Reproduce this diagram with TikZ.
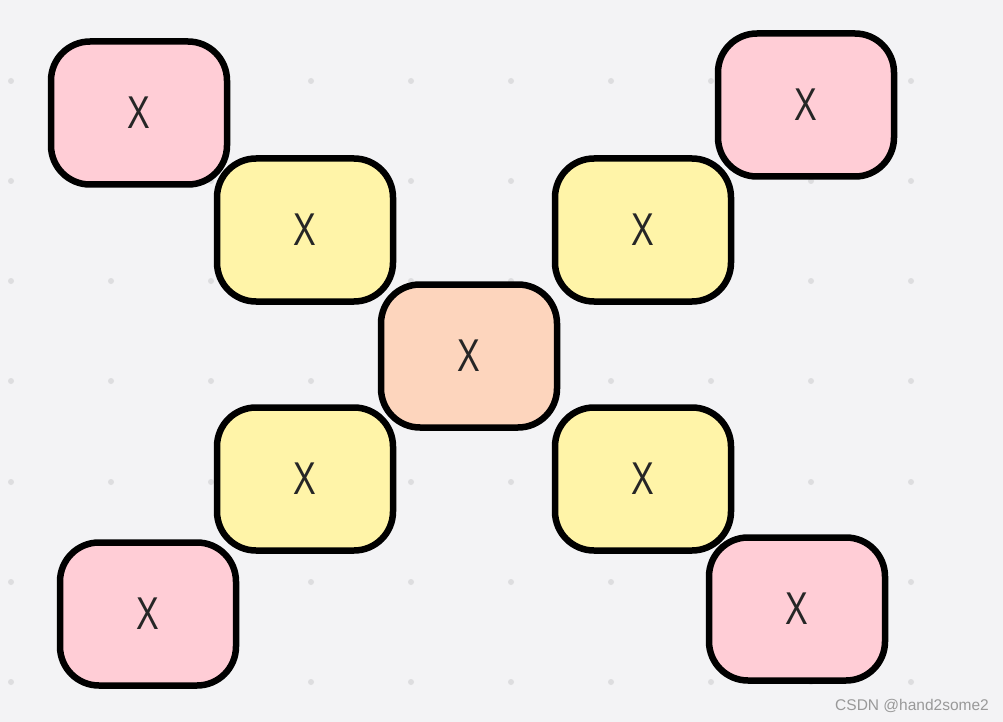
\documentclass[tikz,border=0pt]{standalone}
\usepackage{fontspec}
\setmainfont{Liberation Sans}
\begin{document}
\begin{tikzpicture}[x=1pt,y=-1pt,
  card/.style={draw=black,line width=6.5pt,rounded corners=39pt,minimum width=176pt,minimum height=143pt,inner sep=0pt,
    text=black!85,font=\fontsize{46}{46}\selectfont},
  pinkcard/.style={card,fill=pinkfill},
  yellowcard/.style={card,fill=yellowfill},
  orangecard/.style={card,fill=orangefill},
  gdot/.style={fill=dotgrey,draw=none}]
\definecolor{bg}{HTML}{F3F3F5}
\definecolor{dotgrey}{HTML}{DDDDDF}
\definecolor{pinkfill}{HTML}{FFCDD6}
\definecolor{yellowfill}{HTML}{FFF4A8}
\definecolor{orangefill}{HTML}{FDD5BD}
\fill[bg] (0,0) rectangle (1003,722);
\useasboundingbox (0,0) rectangle (1003,722);
\foreach \gx in {11,111,...,911}{
  \foreach \gy in {81,181,281,381,482,582,682}{
    \fill[gdot] (\gx,\gy) circle (3pt);
  }
}
\newcommand{\cardX}{\scalebox{0.74}[1]{X}}
\node[pinkcard] (p1) at (139,113) {\cardX};
\node[pinkcard] (p2) at (806,105) {\cardX};
\node[pinkcard] (p3) at (148,614) {\cardX};
\node[pinkcard] (p4) at (797,609) {\cardX};
\node[yellowcard] (y1) at (305,230) {\cardX};
\node[yellowcard] (y2) at (643,230) {\cardX};
\node[yellowcard] (y3) at (305,479) {\cardX};
\node[yellowcard] (y4) at (643,479) {\cardX};
\node[orangecard] (c) at (469,356) {\cardX};
\node[anchor=east,text=black!40,font=\fontsize{15.5}{15.5}\selectfont,inner sep=0pt] (wm) at (989,706) {CSDN @hand2some2};
\end{tikzpicture}
\end{document}
